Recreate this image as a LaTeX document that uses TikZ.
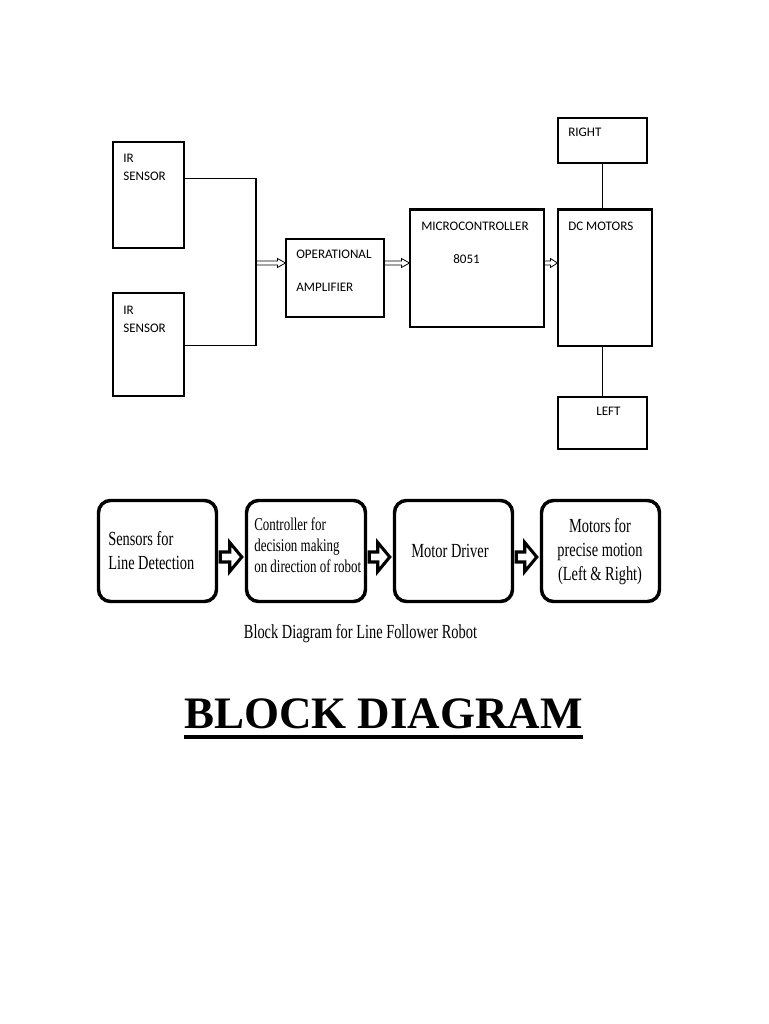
\documentclass[tikz,border=0pt]{standalone}
\usepackage{fontspec}
\setmainfont{Liberation Serif}
\newfontfamily\narrowserif{Liberation Serif}[FakeStretch=0.72]
\newfontfamily\calibri{Carlito}
\usetikzlibrary{positioning,fit,calc}

% hollow block arrow: [style] start, end, shaft half height, head half height, head length
\newcommand{\hollowarrow}[6][]{%
  \draw[#1] ($(#2)+(0,#4)$) -- ($(#3)+(-#6,#4)$) -- ($(#3)+(-#6,#5)$) -- (#3)
    -- ($(#3)+(-#6,-#5)$) -- ($(#3)+(-#6,-#4)$) -- ($(#2)+(0,-#4)$) -- cycle;}

\tikzset{
  plainbox/.style={draw, line width=0.8pt, inner sep=0pt},
  wire/.style={line width=0.8pt},
  toplbl/.style={font=\calibri\fontsize{9.8}{13.5}\selectfont, inner sep=0pt, align=left},
  roundbox/.style={draw, line width=2.6pt, rounded corners=9pt, inner sep=0pt},
  boxlbl/.style={font=\narrowserif\fontsize{15}{18}\selectfont, inner sep=0pt},
  thinarrow/.style={line width=0.6pt, fill=white},
  fatarrow/.style={line width=2.3pt, fill=white, line join=miter},
}

\begin{document}
\begin{tikzpicture}[x=0.75pt, y=-0.75pt]
	\useasboundingbox (0,0) rectangle (768,1024);

	% upper diagram
	\node[plainbox, fit={(113,142) (184,248)}] (ir1) {};
	\node[plainbox, fit={(113,293) (184,396)}] (ir2) {};
	\node[plainbox, fit={(286,239) (384,317)}] (opamp) {};
	\node[plainbox, fit={(410,210) (544,327)}] (micro) {};
	\node[plainbox, fit={(558,210) (652,346)}] (dcm) {};
	\node[plainbox, fit={(558,118) (647,163)}] (rmotor) {};
	\node[plainbox, fit={(558,397) (647,449)}] (lmotor) {};
	\draw[line width=1.6pt] (micro.north west) -- (micro.north east);
	\draw[line width=1.6pt] (dcm.north west) -- (dcm.north east);

	% base anchor sits on the last line
	\node[toplbl, anchor=base west] (irtxt1) at (123,180) {IR\\SENSOR};
	\node[toplbl, anchor=base west] (irtxt2) at (123,332) {IR\\SENSOR};
	\node[toplbl, anchor=base west] (amptxt) at (296,291) {OPERATIONAL\\[11.25pt]AMPLIFIER};
	\node[toplbl, anchor=base west] (mctxt) at (421,230) {MICROCONTROLLER};
	\node[toplbl, anchor=base west] (mcnum) at (453,263) {8051};
	\node[toplbl, anchor=base west] (dctxt) at (568,230) {DC MOTORS};
	\node[toplbl, anchor=base west] (rtxt) at (568,136) {RIGHT};
	\node[toplbl, anchor=base west] (ltxt) at (596,415) {LEFT};

	\coordinate (jn) at (256,263);
	\coordinate (ampin) at (jn -| opamp.west);
	\coordinate (ampout) at (jn -| opamp.east);
	\coordinate (mcin) at (jn -| micro.west);
	\coordinate (mcout) at (jn -| micro.east);
	\coordinate (dcin) at (jn -| dcm.west);
	\hollowarrow[thinarrow]{jn}{ampin}{2}{4.5}{8}
	\hollowarrow[thinarrow]{ampout}{mcin}{2}{4.5}{8}
	\hollowarrow[thinarrow]{mcout}{dcin}{2}{4.5}{7}

	\draw[wire] ($(ir1.north east)+(0,37)$) -| (jn) |- ($(ir2.north east)+(0,53)$);
	\draw[wire] (rmotor.south) -- (rmotor.south |- dcm.north);
	\draw[wire] (lmotor.north) -- (lmotor.north |- dcm.south);

	% lower diagram
	\node[roundbox, fit={(98.5,500.5) (216.5,601.5)}] (sense) {};
	\node[roundbox, fit={(246.5,500.5) (365.5,601.5)}] (ctrl) {};
	\node[roundbox, fit={(394.5,500.5) (512.5,601.5)}] (drive) {};
	\node[roundbox, fit={(541.5,500.5) (659.5,601.5)}] (motion) {};

	\node[boxlbl, anchor=base west, align=left] (sensetxt) at (108,569) {Sensors for\\Line Detection};
	\node[boxlbl, anchor=base west, align=left, font=\narrowserif\fontsize{13.5}{15.75}\selectfont] (ctrltxt) at (254,572) {Controller for\\decision making\\on direction of robot};
	\node[boxlbl, anchor=base] (drivetxt) at (450,557) {Motor Driver};
	\node[boxlbl, anchor=base, align=center] (motiontxt) at (600,580) {Motors for\\precise motion\\(Left \& Right)};

	\coordinate (lvl) at (0,557);
	\foreach \a/\b in {sense/ctrl, ctrl/drive, drive/motion} {
		\coordinate (\a-out) at ($(\a.east |- lvl)+(2,0)$);
		\coordinate (\b-in) at ($(\b.west |- lvl)+(-3,0)$);
		\hollowarrow[fatarrow]{\a-out}{\b-in}{5}{14.5}{12}
	}

	\node[boxlbl, anchor=base] (caption) at (360.5,638) {Block Diagram for Line Follower Robot};

	% title
	\node[font=\bfseries\fontsize{33.75}{40}\selectfont, inner sep=0pt, anchor=base] (title) at (383.5,728) {BLOCK DIAGRAM};
	\draw[line width=3pt] ($(title.base west)+(0,9)$) -- ($(title.base east)+(0,9)$);
\end{tikzpicture}
\end{document}
